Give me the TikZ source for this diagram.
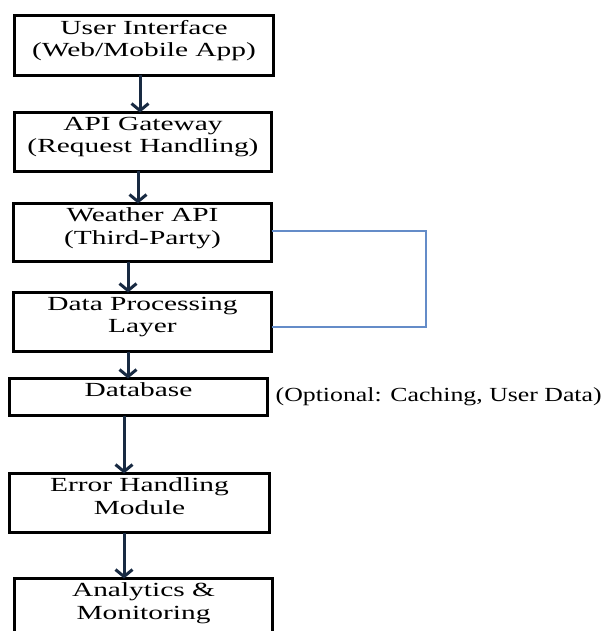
\documentclass[tikz,border=0pt]{standalone}
\usepackage{fontspec}
\setmainfont[FakeStretch=1.47]{Liberation Serif}
\newfontfamily\optfont[FakeStretch=1.29]{Liberation Serif}
\usetikzlibrary{arrows.meta}
\definecolor{arrownavy}{RGB}{24,42,66}
\definecolor{linkblue}{RGB}{100,140,200}
\begin{document}
\begin{tikzpicture}[x=1pt, y=1pt,
        box/.style={draw, line width=3pt, inner sep=0pt, outer sep=0pt, minimum width=258pt},
        lbl/.style={anchor=north, inner sep=0pt, align=center, font=\fontsize{20}{22.5}\selectfont, yshift=-4.4pt},
        flow/.style={arrownavy, line width=3pt, -{Straight Barb[length=7pt, width=17pt]}},
        link/.style={linkblue, line width=1.7pt}]
        \useasboundingbox (0,0) rectangle (602,-631);
        \node[box, minimum width=259pt, minimum height=60pt] (ui) at (144,-45.5) {};
        \node[box, minimum width=257pt, minimum height=59pt] (gw) at (143,-142) {};
        \node[box, minimum height=58pt] (wx) at (142.5,-232.5) {};
        \node[box, minimum height=59pt] (dp) at (142.5,-322) {};
        \node[box, minimum height=37pt] (db) at (138.5,-397) {};
        \node[box, minimum width=260pt, minimum height=59pt] (err) at (139.5,-503) {};
        \node[box, minimum width=258pt, minimum height=65pt] (ana) at (143.5,-611) {};
        \node[lbl] (uiT) at (ui.north) {User Interface\\(Web/Mobile App)};
        \node[lbl] (gwT) at (gw.north) {API Gateway\\(Request Handling)};
        \node[lbl] (wxT) at (wx.north) {Weather API\\(Third-Party)};
        \node[lbl] (dpT) at (dp.north) {Data Processing\\Layer};
        \node[lbl] (dbT) at (db.north) {Database};
        \node[lbl] (errT) at (err.north) {Error Handling\\Module};
        \node[lbl] (anaT) at (ana.north) {Analytics \&\\Monitoring};
        \node[anchor=west, inner sep=0pt, font=\optfont\fontsize{20}{22.5}\selectfont] (opt) at ([xshift=8pt]db.east) {(Optional: Caching, User Data)};
        \draw[flow] (ui.south -| 140,0) -- (gw.north -| 140,0);
        \draw[flow] (gw.south -| 138,0) -- (wx.north -| 138,0);
        \draw[flow] (wx.south -| 128,0) -- (dp.north -| 128,0);
        \draw[flow] (dp.south -| 128,0) -- (db.north -| 128,0);
        \draw[flow] (db.south -| 124,0) -- (err.north -| 124,0);
        \draw[flow] (err.south -| 124,0) -- (ana.north -| 124,0);
        \draw[link] ([yshift=1.5pt]wx.east) -- ++(154.5,0) |- ([yshift=-5pt]dp.east);
\end{tikzpicture}
\end{document}
